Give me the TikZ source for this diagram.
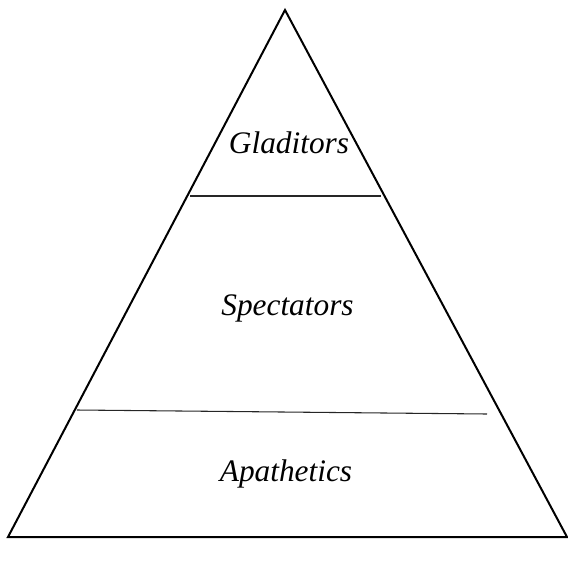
\documentclass[tikz,border=0pt]{standalone}
\usepackage{fontspec}
\setmainfont{Liberation Serif}
\usepackage{tikz}
\usetikzlibrary{positioning}

\begin{document}
\begin{tikzpicture}[
    x=0.75pt, y=-0.75pt,
    tier/.style={font=\fontsize{23.5}{28}\selectfont\itshape, inner sep=0pt, anchor=base},
    edge/.style={line width=1.5pt, black, line join=miter},
    divider/.style={line width=0.8pt, black!85}
]
\useasboundingbox (0,0) rectangle (568,565);

\coordinate (top)   at (285,10);
\coordinate (left)  at (8,537);
\coordinate (right) at (567,537);
\draw[edge] (left) -- (top) -- (right) -- cycle;

\coordinate (d1l) at (190,196);
\coordinate (d1r) at (381,196);
\coordinate (d2l) at (77,410);
\coordinate (d2r) at (487,414);
\draw[divider] (d1l) -- (d1r);
\draw[divider] (d2l) -- (d2r);

\node[tier] (glad) at (289,153) {Gladitors};
\node[tier] (spec) at (287.5,315) {Spectators};
\node[tier] (apat) at (286,481) {Apathetics};
\end{tikzpicture}
\end{document}
